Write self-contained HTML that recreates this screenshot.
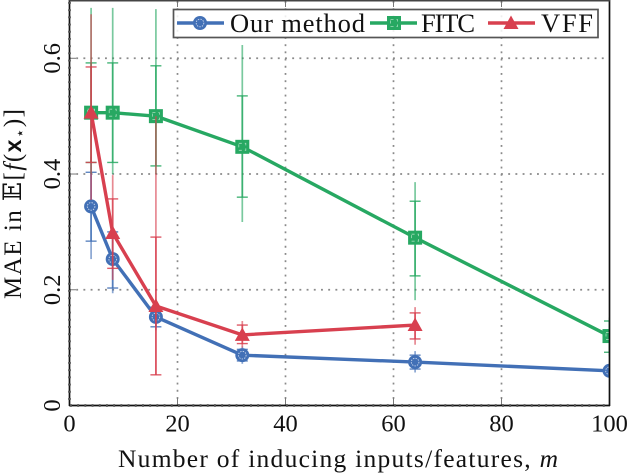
<!DOCTYPE html>
<html>
<head>
<meta charset="utf-8">
<title>MAE chart</title>
<style>
html,body{margin:0;padding:0;background:#fff;width:628px;height:474px;overflow:hidden}
svg{display:block}
text{font-family:"Liberation Serif","DejaVu Serif",serif;fill:#111}
</style>
</head>
<body>
<svg id="chart" xmlns="http://www.w3.org/2000/svg" width="628" height="474" viewBox="0 0 628 474">
<defs><clipPath id="plot-clip"><rect x="69" y="0" width="540.5" height="405.5"/></clipPath></defs>
<g id="grid"></g>
<g id="series" clip-path="url(#plot-clip)"></g>
<g id="axes"></g>
<g id="legend"></g>
<text x="338" y="467" text-anchor="middle" font-size="25.5" textLength="440" lengthAdjust="spacing">Number of inducing inputs/features, <tspan font-style="italic">m</tspan></text>
<text transform="translate(21,204) rotate(-90)" text-anchor="middle" font-size="25" textLength="190" lengthAdjust="spacing">MAE in 𝔼[<tspan font-style="italic">f</tspan>(<tspan font-family="Liberation Sans" font-weight="bold" font-size="23">x</tspan><tspan font-size="15" dy="4">⋆</tspan><tspan dy="-4">)]</tspan></text>
</svg>
<script>
const xTicks = [0, 20, 40, 60, 80, 100];
const yTicks = [0, 0.2, 0.4, 0.6];
const yTickLabels = ["0", "0.2", "0.4", "0.6"];

const methodX = [4, 8, 16, 32, 64, 100];
const methodY = [0.344, 0.253, 0.153, 0.087, 0.075, 0.060];
const methodCapHi = [0.403, 0.300, 0.170, 0.097, 0.087, 0.066];
const methodCapLo = [0.284, 0.203, 0.136, 0.077, 0.063, 0.054];
const methodWhiskerHi = [0.430, 0.310, 0.180, 0.102, 0.094, 0.070];
const methodWhiskerLo = [0.253, 0.194, 0.130, 0.072, 0.057, 0.050];

const fitcX = [4, 8, 16, 32, 64, 100];
const fitcY = [0.506, 0.506, 0.500, 0.447, 0.290, 0.120];
const fitcCapHi = [0.592, 0.592, 0.587, 0.535, 0.353, 0.146];
const fitcCapLo = [0.420, 0.420, 0.414, 0.360, 0.224, 0.092];
const fitcWhiskerHi = [0.687, 0.687, 0.685, 0.623, 0.386, 0.152];
const fitcWhiskerLo = [0.400, 0.400, 0.400, 0.317, 0.182, 0.085];

const vffX = [4, 8, 16, 32, 64];
const vffY = [0.506, 0.298, 0.172, 0.122, 0.139];
const vffCapHi = [0.585, 0.357, 0.291, 0.139, 0.160];
const vffCapLo = [0.420, 0.237, 0.053, 0.107, 0.115];
const vffWhiskerHi = [0.676, 0.398, 0.500, 0.146, 0.170];
const vffWhiskerLo = [0.355, 0.217, 0.053, 0.100, 0.105];

const BLUE = "#4270b6", GREEN = "#27a862", RED = "#d8404f";
const NS = "http://www.w3.org/2000/svg";
const sx = v => 69.5 + v * 5.4;
const sy = v => 405.5 - v * 578.7;
function mk(tag, attrs, parent) {
  const e = document.createElementNS(NS, tag);
  for (const k in attrs) e.setAttribute(k, attrs[k]);
  parent.appendChild(e);
  return e;
}
const grid = document.getElementById("grid");
const axes = document.getElementById("axes");
const seriesG = document.getElementById("series");
const legend = document.getElementById("legend");

xTicks.forEach(t => {
  const x = sx(t);
  if (t > 0 && t < 100) {
    const g = mk("line", {x1: x, x2: x, y1: 1, y2: 405, stroke: "#8a8a8a", "stroke-width": 1.7, "stroke-dasharray": "1.9 5.3"}, grid);
    
    
    const a = mk("line", {x1: x, x2: x, y1: 398, y2: 405, stroke: "#777", "stroke-width": 1}, axes);
    
    
    const b = mk("line", {x1: x, x2: x, y1: 1, y2: 7, stroke: "#777", "stroke-width": 1}, axes);
    
    
  }
  const l = mk("text", {x: x, y: 431.5, "text-anchor": "middle", "font-size": 24.5}, axes);
  l.textContent = String(t);
  
  
});
yTicks.forEach((t, i) => {
  const y = sy(t);
  if (t > 0) {
    const g = mk("line", {x1: 69, x2: 609, y1: y, y2: y, stroke: "#8a8a8a", "stroke-width": 1.7, "stroke-dasharray": "1.9 5.3"}, grid);
    
    
    const a = mk("line", {x1: 69, x2: 76, y1: y, y2: y, stroke: "#777", "stroke-width": 1}, axes);
    
    
  }
  const l = mk("text", {transform: "translate(60," + y + ") rotate(-90)", "text-anchor": "middle", "font-size": 24.5}, axes);
  l.textContent = yTickLabels[i];
  
  
});

const leftAxis = mk("line", {x1: 69.5, x2: 69.5, y1: 0, y2: 406, stroke: "#111", "stroke-width": 1.7}, axes);


const rightAxis = mk("line", {x1: 609.5, x2: 609.5, y1: 0, y2: 406, stroke: "#111", "stroke-width": 1.7}, axes);


const bottomAxis = mk("line", {x1: 69, x2: 610, y1: 405.5, y2: 405.5, stroke: "#111", "stroke-width": 1.7}, axes);


const topAxis = mk("line", {x1: 69, x2: 610, y1: 0.6, y2: 0.6, stroke: "#444", "stroke-width": 1.7}, axes);


const leftBumps = mk("line", {x1: 69.5, x2: 69.5, y1: 2, y2: 405, stroke: "#555", "stroke-width": 2.8, "stroke-dasharray": "1.9 5.3"}, axes);


const bottomBumps = mk("line", {x1: 70, x2: 609, y1: 405.5, y2: 405.5, stroke: "#555", "stroke-width": 2.8, "stroke-dasharray": "1.9 5.3"}, axes);



function marker(kind, cx, cy, color, parent) {
  const g = mk("g", {}, parent);
  if (kind === "circle") {
    mk("circle", {cx: cx, cy: cy, r: 7, fill: color}, g);
    mk("circle", {cx: cx, cy: cy, r: 3.8, fill: "none", stroke: "#c9d6ec", "stroke-width": 0.9, "stroke-dasharray": "1.4 1.2"}, g);
  } else if (kind === "square") {
    mk("rect", {x: cx - 7, y: cy - 7, width: 14, height: 14, fill: color}, g);
    mk("rect", {x: cx - 3.5, y: cy - 3.5, width: 7, height: 7, fill: "none", stroke: "#a5dcbc", "stroke-width": 0.8, "stroke-dasharray": "3 3"}, g);
  } else {
    mk("polygon", {points: (cx) + "," + (cy - 7.5) + " " + (cx + 7.5) + "," + (cy + 6) + " " + (cx - 7.5) + "," + (cy + 6), fill: color}, g);
  }
  return g;
}

function drawSeries(xs, ys, capHi, capLo, whiskerHi, whiskerLo, color, kind, name) {
  const g = mk("g", {}, seriesG);
  
  
  xs.forEach((v, i) => {
    const x = sx(v);
    const w = mk("line", {x1: x, x2: x, y1: sy(whiskerHi[i]), y2: sy(whiskerLo[i]), stroke: color, "stroke-width": 1.7, "stroke-opacity": 0.62}, g);
    
    
    const inner = mk("line", {x1: x, x2: x, y1: sy(capHi[i]), y2: sy(capLo[i]), stroke: color, "stroke-width": 1.7, "stroke-opacity": 0.75}, g);
    
    
    [capHi[i], capLo[i]].forEach(c => {
      const cap = mk("line", {x1: x - 5.5, x2: x + 5.5, y1: sy(c), y2: sy(c), stroke: color, "stroke-width": 1.4, "stroke-opacity": 0.85}, g);
      
      
    });
  });
  const pts = xs.map((v, i) => sx(v) + "," + sy(ys[i])).join(" ");
  const line = mk("polyline", {points: pts, fill: "none", stroke: color, "stroke-width": 3.4, "stroke-linejoin": "round"}, g);
  
  
  xs.forEach((v, i) => {
    const m = marker(kind, sx(v), sy(ys[i]), color, g);
    
    
  });
}
drawSeries(methodX, methodY, methodCapHi, methodCapLo, methodWhiskerHi, methodWhiskerLo, BLUE, "circle", "our-method");
drawSeries(fitcX, fitcY, fitcCapHi, fitcCapLo, fitcWhiskerHi, fitcWhiskerLo, GREEN, "square", "fitc");
drawSeries(vffX, vffY, vffCapHi, vffCapLo, vffWhiskerHi, vffWhiskerLo, RED, "triangle", "vff");

const box = mk("rect", {x: 173.5, y: 9.5, width: 424.5, height: 28, fill: "#fff", "fill-opacity": 0.85, stroke: "#555", "stroke-width": 1.7}, legend);


function legendEntry(x1, x2, cx, kind, color, label, tx, tw, name) {
  const g = mk("g", {}, legend);
  
  
  mk("line", {x1: x1, x2: x2, y1: 23, y2: 23, stroke: color, "stroke-width": 3.4}, g);
  marker(kind, cx, 23, color, g);
  const t = mk("text", {x: tx, y: 32, "font-size": 26.5, textLength: tw, lengthAdjust: "spacing"}, g);
  t.textContent = label;
}
legendEntry(177, 224, 200, "circle", BLUE, "Our method", 230, 135, "legend-entry-our-method");
legendEntry(370, 417, 394, "square", GREEN, "FITC", 421, 54, "legend-entry-fitc");
legendEntry(488, 535, 511, "triangle", RED, "VFF", 541, 52, "legend-entry-vff");
</script>
</body>
</html>
